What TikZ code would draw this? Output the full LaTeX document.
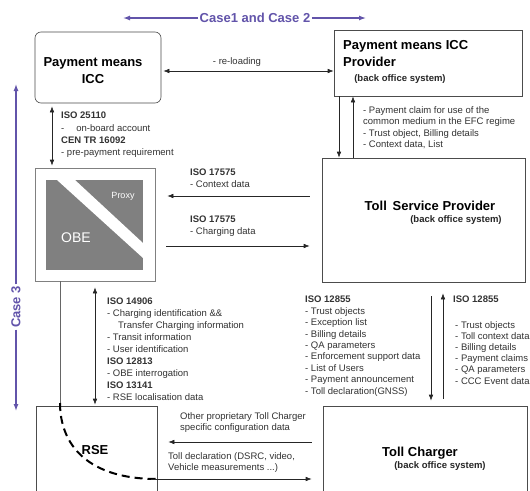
\documentclass[tikz,border=0pt]{standalone}
\usepackage{fontspec}
\setmainfont{Liberation Sans}
\usetikzlibrary{arrows.meta}
\definecolor{casepurple}{RGB}{98,84,170}
\definecolor{obegray}{RGB}{128,128,128}
\tikzset{
  box/.style={draw=black!70, line width=0.6pt, inner sep=0pt},
  ttl/.style={font=\fontsize{13}{17}\selectfont\bfseries, inner sep=0pt, align=left},
  sub/.style={font=\fontsize{9.5}{11}\selectfont\bfseries, text=black!85, inner sep=0pt},
  lbl/.style={font=\fontsize{9.5}{11.6}\selectfont, text=black!80, inner sep=0pt, align=left, anchor=north west},
  tip/.tip={Latex[length=6pt,width=4.6pt]},
  arr/.style={-tip, line width=0.6pt, black!85},
  dbl/.style={tip-tip, line width=0.6pt, black!85},
  purp/.style={-{Latex[length=7pt,width=5pt]}, line width=1.3pt, casepurple},
  dsh/.style={line width=2pt, dash pattern=on 8pt off 5pt}
}
\begin{document}
\begin{tikzpicture}[x=1pt,y=-1pt]
  \clip (0,0) rectangle (530,490);
  \fill[white] (0,0) rectangle (530,490);

  \node[box, rounded corners=6pt, minimum width=126pt, minimum height=71pt] (icc) at (98,67.5) {};
  \node[box, minimum width=188pt, minimum height=66pt] (prov) at (428,63) {};
  \node[box, draw=black!50, minimum width=120pt, minimum height=113pt] (obe) at (95,224.5) {};
  \node[box, minimum width=203pt, minimum height=124pt] (tsp) at (423.5,220) {};
  \node[box, minimum width=121pt, minimum height=94pt] (rse) at (96.5,453) {};
  \node[box, minimum width=204pt, minimum height=94pt] (tc) at (425,453) {};

  \fill[obegray] (46,180) rectangle (143,270);
  \fill[white] (57,180) -- (75,180) -- (143,243) -- (143,258) -- cycle;
  \node[font=\fontsize{9}{11}\selectfont, text=white, inner sep=0pt] (proxy) at (123,196) {Proxy};
  \node[font=\fontsize{14}{16}\selectfont, text=white, inner sep=0pt] (obetxt) at (76,238) {OBE};

  \node[ttl, align=center] (icctxt) at (93,71) {Payment means\\ICC};
  \node[ttl, anchor=north west] (provtxt) at (343,40) {Payment means ICC\\Provider};
  \node[sub] (provsub) at (400,79) {(back office system)};
  \node[ttl] (tsptxt) at (430,206) {Toll\, Service Provider};
  \node[sub] (tspsub) at (456,220) {(back office system)};
  \node[ttl] (tctxt) at (420,453) {Toll Charger};
  \node[sub] (tcsub) at (440,466) {(back office system)};
  \node[ttl] (rsetxt) at (95,450) {RSE};

  \node[font=\fontsize{13}{15}\selectfont\bfseries, text=casepurple, inner sep=1.5pt] (case12) at (255,18) {Case1 and Case 2};
  \coordinate (c12l) at (123,18);
  \coordinate (c12r) at (366,18);
  \draw[purp] (case12.west) -- (c12l);
  \draw[purp] (case12.east) -- (c12r);
  \node[font=\fontsize{13}{15}\selectfont\bfseries, text=casepurple, inner sep=1.5pt, rotate=90] (case3) at (16,307) {Case 3};
  \coordinate (c3t) at (16,84);
  \coordinate (c3b) at (16,411);
  \draw[purp] (case3.east) -- (c3t);
  \draw[purp] (case3.west) -- (c3b);

  \node[font=\fontsize{9.5}{11}\selectfont, text=black!80, inner sep=0pt] (reload) at (237,62) {- re-loading};
  \draw[dbl, shorten <=2pt] (icc.east |- 0,71) -- (prov.west |- 0,71);

  \draw[dbl, shorten <=3pt, shorten >=2pt] (icc.south -| 52,0) -- (obe.north -| 52,0);
  \node[lbl, font=\fontsize{9.5}{12.2}\selectfont] (isoa) at (61,112) {\textbf{ISO 25110}\\-\hspace{12pt}on-board account\\\textbf{CEN TR 16092}\\- pre-payment requirement};

  \draw[arr] (prov.south -| 339,0) -- (tsp.north -| 339,0);
  \draw[arr] (tsp.north -| 353,0) -- (prov.south -| 353,0);
  \node[lbl] (provlist) at (363,106) {- Payment claim for use of the\\common medium in the EFC regime\\- Trust object, Billing details\\- Context data, List};

  \draw[arr, shorten <=12pt, shorten >=12pt] (tsp.west |- 0,196) -- (obe.east |- 0,196);
  \node[lbl] (ctx) at (190,169) {\textbf{ISO 17575}\\- Context data};
  \draw[arr, shorten <=11pt, shorten >=12pt] (obe.east |- 0,246) -- (tsp.west |- 0,246);
  \node[lbl] (chg) at (190,216) {\textbf{ISO 17575}\\- Charging data};

  \draw[dbl, shorten <=6pt, shorten >=1pt] (obe.south -| 95,0) -- (rse.north -| 95,0);
  \node[lbl, font=\fontsize{9.5}{11.9}\selectfont] (isob) at (107,298) {\textbf{ISO 14906}\\- Charging identification \&\&\\\hspace*{11pt}Transfer Charging information\\- Transit information\\- User identification\\\textbf{ISO 12813}\\- OBE interrogation\\\textbf{ISO 13141}\\- RSE localisation data};

  \draw[arr, shorten <=14pt, shorten >=5pt] (tsp.south -| 431,0) -- (tc.north -| 431,0);
  \draw[arr, shorten <=7pt, shorten >=11pt] (tc.north -| 443,0) -- (tsp.south -| 443,0);
  \node[lbl, font=\fontsize{9.5}{11.4}\selectfont] (isoc) at (305,296) {\textbf{ISO 12855}\\- Trust objects\\- Exception list\\- Billing details\\- QA parameters\\- Enforcement support data\\- List of Users\\- Payment announcement\\- Toll declaration(GNSS)};
  \node[lbl] (isod) at (453,296) {\textbf{ISO 12855}};
  \node[lbl, font=\fontsize{9.5}{11.2}\selectfont] (isodlist) at (455,321) {- Trust objects\\- Toll context data\\- Billing details\\- Payment claims\\- QA parameters\\- CCC Event data};

  \draw[arr, shorten <=11pt, shorten >=11pt] (tc.west |- 0,442) -- (rse.east |- 0,442);
  \node[lbl] (cfg) at (180,412) {Other proprietary Toll Charger\\specific configuration data};
  \node[lbl, font=\fontsize{9.5}{11}\selectfont] (decl) at (168,452) {Toll declaration (DSRC, video,\\Vehicle measurements ...)};

  \coordinate (dtop) at (60,403);
  \coordinate (dend) at (157,479);
  \draw[line width=0.6pt, black!60] (obe.south -| dtop) -- (dtop);
  \draw[dsh] (dtop) .. controls (60,445) and (88,479) .. (dend);
  \draw[arr, shorten <=-6pt, shorten >=11pt] (dend) -- (tc.west |- dend);
\end{tikzpicture}
\end{document}
